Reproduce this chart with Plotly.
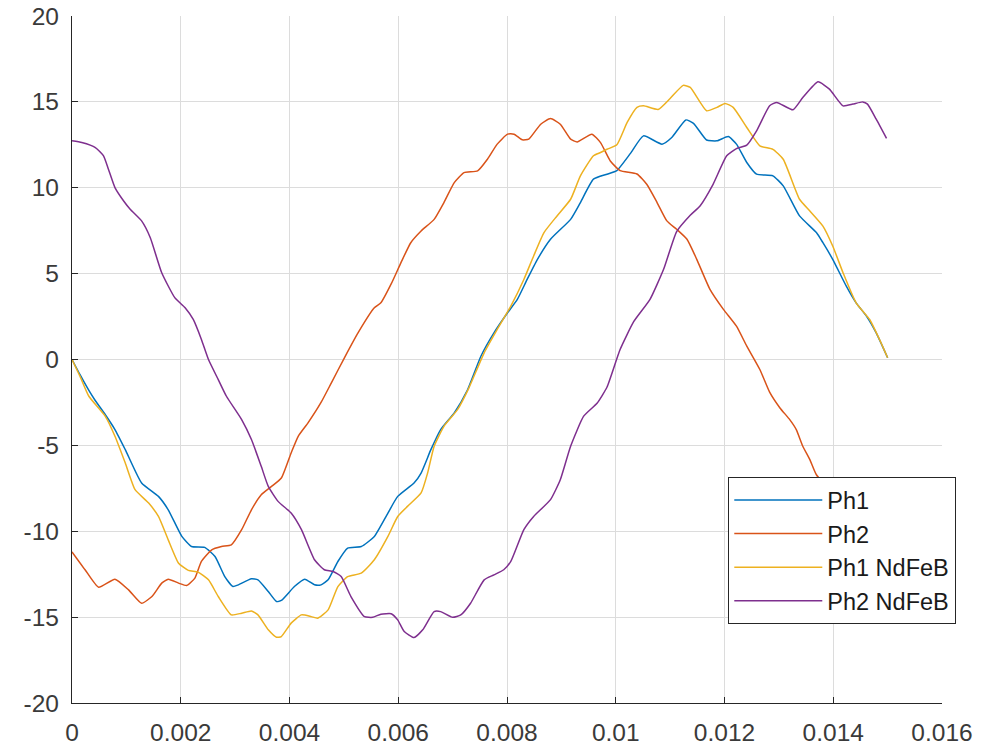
import plotly.graph_objects as go

# ── Données (temps en s, flux / tension arbitraire) ──
t_ph1 = [0.0, 0.00015, 0.00031, 0.00043, 0.00061, 0.00079, 0.00098, 0.00128, 0.00159, 0.00177,
         0.00202, 0.00220, 0.00244, 0.00263, 0.00281, 0.00296, 0.00306, 0.00330, 0.00342, 0.00361,
         0.00376, 0.00385, 0.00409, 0.00428, 0.00446, 0.00458, 0.00471, 0.00489, 0.00507, 0.00532,
         0.00556, 0.00581, 0.00599, 0.00629, 0.00642, 0.00660, 0.00678, 0.00703, 0.00727, 0.00752,
         0.00776, 0.00801, 0.00819, 0.00837, 0.00856, 0.00880, 0.00917, 0.00935, 0.00959, 0.00984,
         0.01002, 0.01027, 0.01051, 0.01085, 0.01103, 0.01129, 0.01143, 0.01167, 0.01186, 0.01207,
         0.01222, 0.01241, 0.01259, 0.01289, 0.01308, 0.01338, 0.01369, 0.01381, 0.01399, 0.01424,
         0.01442, 0.01461, 0.01479, 0.01500]
ph1 = [0.0, -0.9, -1.8, -2.4, -3.2, -4.08, -5.25, -7.19, -7.97, -8.75,
       -10.3, -10.89, -10.94, -11.47, -12.64, -13.22, -13.12, -12.77, -12.83, -13.51,
       -14.09, -14.03, -13.22, -12.79, -13.12, -13.12, -12.83, -11.76, -10.98, -10.89,
       -10.3, -8.94, -7.97, -7.19, -6.61, -5.25, -4.08, -3.11, -1.8, 0.19,
       1.55, 2.72, 3.5, 4.66, 5.83, 7.0, 8.16, 9.14, 10.5, 10.79,
       11.0, 12.0, 13.02, 12.54, 12.93, 13.95, 13.75, 12.78, 12.73, 12.98,
       12.54, 11.47, 10.79, 10.69, 10.11, 8.36, 7.39, 6.8, 5.83, 4.27,
       3.3, 2.53, 1.55, 0.1]

t_ph2 = [0.0, 0.00024, 0.00049, 0.00079, 0.00104, 0.00128, 0.00147, 0.00165, 0.00177, 0.00196,
         0.00211, 0.00226, 0.00238, 0.00257, 0.00275, 0.00293, 0.00312, 0.00330, 0.00348, 0.00367,
         0.00385, 0.00403, 0.00416, 0.00434, 0.00458, 0.00477, 0.00501, 0.00526, 0.00556, 0.00568,
         0.00587, 0.00605, 0.00623, 0.00642, 0.00666, 0.00684, 0.00703, 0.00721, 0.00746, 0.00764,
         0.00782, 0.00801, 0.00813, 0.00828, 0.00840, 0.00862, 0.00880, 0.00898, 0.00917, 0.00929,
         0.00956, 0.00972, 0.00990, 0.01008, 0.01039, 0.01057, 0.01076, 0.01094, 0.01112, 0.01131,
         0.01149, 0.01173, 0.01198, 0.01222, 0.01241, 0.01265, 0.01283, 0.01302, 0.01320, 0.01332,
         0.01344, 0.01357, 0.01369, 0.01400, 0.01430, 0.01460, 0.01500]
ph2 = [-11.2, -12.24, -13.26, -12.79, -13.41, -14.19, -13.8, -13.02, -12.79, -13.02,
       -13.16, -12.73, -11.76, -11.08, -10.89, -10.79, -9.91, -8.75, -7.87, -7.39,
       -6.9, -5.44, -4.47, -3.69, -2.5, -1.36, 0.1, 1.55, 3.01, 3.3,
       4.4, 5.64, 6.8, 7.48, 8.16, 9.14, 10.3, 10.88, 10.98, 11.66,
       12.54, 13.12, 13.12, 12.79, 12.83, 13.7, 14.03, 13.7, 12.83, 12.67,
       13.12, 12.63, 11.56, 11.0, 10.8, 10.2, 9.14, 8.07, 7.58, 7.0,
       5.83, 4.1, 2.92, 1.94, 0.78, -0.58, -1.9, -2.82, -3.5, -4.08,
       -5.05, -5.83, -6.71, -7.8, -8.6, -9.8, -11.2]

t_ph1_ndfeb = [0.0, 0.00015, 0.00031, 0.00061, 0.00079, 0.00098, 0.00116, 0.00141, 0.00159, 0.00177,
               0.00196, 0.00214, 0.00232, 0.00251, 0.00269, 0.00293, 0.00312, 0.00330, 0.00342, 0.00361,
               0.00376, 0.00385, 0.00403, 0.00422, 0.00440, 0.00452, 0.00471, 0.00489, 0.00507, 0.00532,
               0.00556, 0.00581, 0.00599, 0.00617, 0.00642, 0.00654, 0.00666, 0.00684, 0.00709, 0.00730,
               0.00758, 0.00782, 0.00807, 0.00831, 0.00849, 0.00868, 0.00892, 0.00917, 0.00935, 0.00959,
               0.00972, 0.00984, 0.01002, 0.01021, 0.01039, 0.01051, 0.01078, 0.01100, 0.01124, 0.01137,
               0.01167, 0.01186, 0.01201, 0.01216, 0.01241, 0.01265, 0.01289, 0.01308, 0.01338, 0.01357,
               0.01381, 0.01399, 0.01418, 0.01442, 0.01467, 0.01485, 0.01500]
ph1_ndfeb = [0.0, -1.0, -2.14, -3.3, -4.47, -6.03, -7.58, -8.36, -9.14, -10.5,
             -11.86, -12.28, -12.38, -12.83, -13.8, -14.87, -14.77, -14.64, -14.87, -15.74,
             -16.17, -16.13, -15.35, -14.87, -14.97, -15.06, -14.58, -13.22, -12.64, -12.44,
             -11.66, -10.3, -9.14, -8.55, -7.77, -6.61, -5.05, -3.89, -2.92, -1.65,
             0.39, 1.75, 3.11, 4.66, 6.03, 7.39, 8.36, 9.33, 10.69, 11.86,
             12.05, 12.24, 12.5, 13.8, 14.68, 14.77, 14.56, 15.2, 15.96, 15.84,
             14.48, 14.68, 14.91, 14.68, 13.51, 12.44, 12.24, 11.66, 9.33, 8.65,
             7.77, 6.61, 5.05, 3.3, 2.33, 1.17, 0.1]

t_ph2_ndfeb = [0.0, 0.00018, 0.00043, 0.00058, 0.00067, 0.00079, 0.00095, 0.00107, 0.00128, 0.00144,
               0.00165, 0.00189, 0.00208, 0.00223, 0.00238, 0.00251, 0.00269, 0.00284, 0.00312, 0.00330,
               0.00348, 0.00361, 0.00379, 0.00403, 0.00422, 0.00446, 0.00464, 0.00480, 0.00495, 0.00513,
               0.00538, 0.00553, 0.00568, 0.00587, 0.00599, 0.00611, 0.00629, 0.00645, 0.00666, 0.00678,
               0.00700, 0.00715, 0.00733, 0.00758, 0.00776, 0.00794, 0.00807, 0.00831, 0.00849, 0.00880,
               0.00898, 0.00917, 0.00941, 0.00966, 0.00984, 0.01008, 0.01033, 0.01063, 0.01088, 0.01112,
               0.01137, 0.01155, 0.01179, 0.01204, 0.01222, 0.01241, 0.01259, 0.01283, 0.01296, 0.01326,
               0.01344, 0.01372, 0.01393, 0.01418, 0.01436, 0.01454, 0.01463, 0.01479, 0.01498]
ph2_ndfeb = [12.73, 12.63, 12.34, 11.86, 11.08, 10.01, 9.23, 8.75, 8.07, 7.09,
             5.05, 3.6, 3.01, 2.33, 1.17, 0.0, -1.17, -2.14, -3.5, -4.66,
             -6.22, -7.39, -8.26, -8.94, -9.91, -11.66, -12.24, -12.34, -12.64, -13.8,
             -14.97, -15.01, -14.83, -14.8, -15.16, -15.84, -16.19, -15.74, -14.68, -14.68,
             -15.01, -14.87, -14.19, -12.83, -12.54, -12.24, -11.76, -9.91, -9.14, -8.16,
             -7.0, -5.05, -3.3, -2.53, -1.6, 0.58, 2.2, 3.5, 5.25, 7.45,
             8.4, 8.94, 10.2, 11.86, 12.28, 12.48, 13.31, 14.77, 14.97, 14.54,
             15.25, 16.17, 15.74, 14.77, 14.87, 15.0, 14.87, 13.99, 12.87]

x_ticks = [0, 0.002, 0.004, 0.006, 0.008, 0.01, 0.012, 0.014, 0.016]
x_labels = ["0", "0.002", "0.004", "0.006", "0.008", "0.01", "0.012", "0.014", "0.016"]
y_ticks = [-20, -15, -10, -5, 0, 5, 10, 15, 20]
y_labels = ["-20", "-15", "-10", "-5", "0", "5", "10", "15", "20"]

# Palette MATLAB par défaut
COLORS = {
    "Ph1": "#0072BD",
    "Ph2": "#D95319",
    "Ph1 NdFeB": "#EDB120",
    "Ph2 NdFeB": "#7E2F8E",
}
TEXT = "#262626"
FONT = "Liberation Sans, Arial, Helvetica, sans-serif"

series = [
    ("Ph1", t_ph1, ph1),
    ("Ph2", t_ph2, ph2),
    ("Ph1 NdFeB", t_ph1_ndfeb, ph1_ndfeb),
    ("Ph2 NdFeB", t_ph2_ndfeb, ph2_ndfeb),
]

fig = go.Figure()
for name, t, v in series:
    fig.add_trace(go.Scatter(
        x=t, y=v, mode="lines", name=name,
        line=dict(color=COLORS[name], width=1.5, shape="spline", smoothing=0.5),
    ))

axis_common = dict(
    automargin=False,
    ticklabeloverflow="allow",
    showgrid=True,
    gridcolor="#dcdcdc",
    gridwidth=1,
    zeroline=False,
    showline=True,
    linecolor=TEXT,
    linewidth=1.2,
    mirror=False,
    ticks="inside",
    ticklen=6,
    tickwidth=1.2,
    tickcolor=TEXT,
    tickfont=dict(family=FONT, size=24.5, color="#3a3a3a"),
)

fig.update_xaxes(range=[0, 0.016], tickvals=x_ticks, ticktext=x_labels,
                 ticklabelstandoff=7, **axis_common)
fig.update_yaxes(range=[-20, 20], tickvals=y_ticks, ticktext=y_labels,
                 ticklabelstandoff=7, **axis_common)

fig.update_layout(
    width=991, height=747,
    margin=dict(l=72, r=49, t=16, b=44),
    paper_bgcolor="white",
    plot_bgcolor="white",
    font=dict(family=FONT, color=TEXT),
    legend=dict(
        x=0.754, y=0.329, xanchor="left", yanchor="top",
        bgcolor="white", bordercolor="#262626", borderwidth=1.3,
        font=dict(family=FONT, size=23.5, color="#1a1a1a"),
        itemwidth=88,
        tracegroupgap=0,
    ),
)

# Supprime la marge par défaut du <body> pour caler la figure sur la fenêtre,
# et masque la barre d'outils Plotly (absente de la figure d'origine).
fig.write_html(
    "out.html",
    config={"displayModeBar": False},
    post_script="document.body.style.margin='0';",
)
